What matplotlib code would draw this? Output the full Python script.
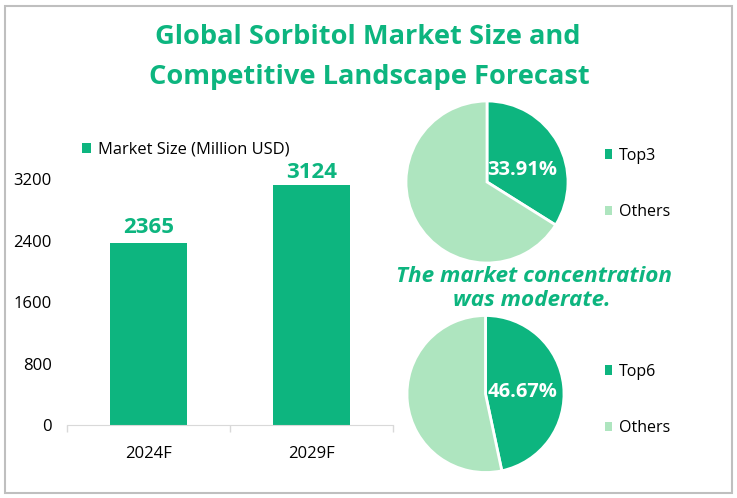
import matplotlib
matplotlib.use("Agg")
import matplotlib.pyplot as plt
from matplotlib.patches import Patch, Rectangle

plt.rcParams["font.family"] = ["Open Sans", "DejaVu Sans"]

W, H = 737, 498
GREEN = "#0DB57F"
LIGHT = "#AEE5BF"
TEXT_GREEN = "#0DB57F"

years = ["2024F", "2029F"]
market_size = [2365, 3124]
y_ticks = [0, 800, 1600, 2400, 3200]
top3_share = [33.91, 66.09]
top6_share = [46.67, 53.33]
top3_labels = ["Top3", "Others"]
top6_labels = ["Top6", "Others"]


def px_rect(left, top, right, bottom):
    return [left / W, 1 - bottom / H, (right - left) / W, (bottom - top) / H]


def px_text(fig, x, y, s, **kwargs):
    fig.text(x / W, 1 - y / H, s, ha="center", va="center", **kwargs)


def draw_pie(fig, center_x, center_y, radius, shares):
    ax = fig.add_axes(px_rect(center_x - radius, center_y - radius, center_x + radius, center_y + radius))
    ax.pie(
        shares,
        colors=[GREEN, LIGHT],
        startangle=90,
        counterclock=False,
        radius=1,
        wedgeprops={"edgecolor": "white", "linewidth": 2.0},
    )
    ax.set_xlim(-1, 1)
    ax.set_ylim(-1, 1)
    return ax


def pie_legend(fig, labels, x, y):
    handles = [Patch(facecolor=GREEN, label=labels[0]), Patch(facecolor=LIGHT, label=labels[1])]
    fig.legend(
        handles=handles,
        loc="center left",
        bbox_to_anchor=(x / W, 1 - y / H),
        frameon=False,
        fontsize=11.5,
        labelspacing=2.55,
        handlelength=0.45,
        handleheight=0.5,
        handletextpad=0.4,
        borderpad=0,
        borderaxespad=0,
    )


fig = plt.figure(figsize=(W / 100, H / 100), dpi=100)

# outer frame
fig.add_artist(Rectangle((5 / W, 1 - 492.5 / H), 727 / W, 486.5 / H, transform=fig.transFigure,
                         facecolor="white", edgecolor="#BFBFBF", linewidth=1.5, zorder=-1))

px_text(fig, 368, 37, "Global Sorbitol Market Size and", color=TEXT_GREEN, fontsize=19.6, fontweight="bold")
px_text(fig, 369, 77, "Competitive Landscape Forecast", color=TEXT_GREEN, fontsize=19.6, fontweight="bold")

ax = fig.add_axes(px_rect(67, 179, 393, 425))
ax.patch.set_alpha(0)
bars = ax.bar(range(len(years)), market_size, width=0.47, color=GREEN)
ax.set_xlim(-0.5, 1.5)
ax.set_ylim(0, 3200)
ax.set_yticks(y_ticks)
ax.set_xticks([-0.5, 0.5, 1.5])
ax.set_xticklabels([])
ax.set_xticks(range(len(years)), labels=years, minor=True)
ax.tick_params(axis="x", which="major", length=5, color="#D9D9D9", width=1)
ax.tick_params(axis="x", which="minor", length=0, pad=15, labelsize=12)
ax.tick_params(axis="y", length=0, pad=11, labelsize=12)
for name in ("top", "right", "left"):
    ax.spines[name].set_visible(False)
ax.spines["bottom"].set_color("#D9D9D9")
for bar, value, lift in zip(bars, market_size, (4, 1.5)):
    ax.annotate(str(value), (bar.get_x() + bar.get_width() / 2, value), xytext=(0, lift),
                textcoords="offset points", ha="center", va="bottom",
                color=TEXT_GREEN, fontsize=16, fontweight="bold", annotation_clip=False)

fig.legend(handles=[Patch(facecolor=GREEN, label="Market Size (Million USD)")],
           loc="center left", bbox_to_anchor=(82 / W, 1 - 150 / H), frameon=False, fontsize=11.9,
           handlelength=0.55, handleheight=0.55, handletextpad=0.4, borderpad=0, borderaxespad=0)

draw_pie(fig, 487, 182, 81, top3_share)
px_text(fig, 522.5, 170, f"{top3_share[0]:.2f}%", color="white", fontsize=14.5, fontweight="bold")
pie_legend(fig, top3_labels, 605, 184)

px_text(fig, 533.5, 276, "The market concentration", color=TEXT_GREEN, fontsize=16.2, fontweight="bold", style="italic")
px_text(fig, 532, 301, "was moderate.", color=TEXT_GREEN, fontsize=16.2, fontweight="bold", style="italic")

draw_pie(fig, 485.5, 394, 78.5, top6_share)
px_text(fig, 523, 391.5, f"{top6_share[0]:.2f}%", color="white", fontsize=14.5, fontweight="bold")
pie_legend(fig, top6_labels, 605, 400)

fig.savefig("out.png", dpi=100)
